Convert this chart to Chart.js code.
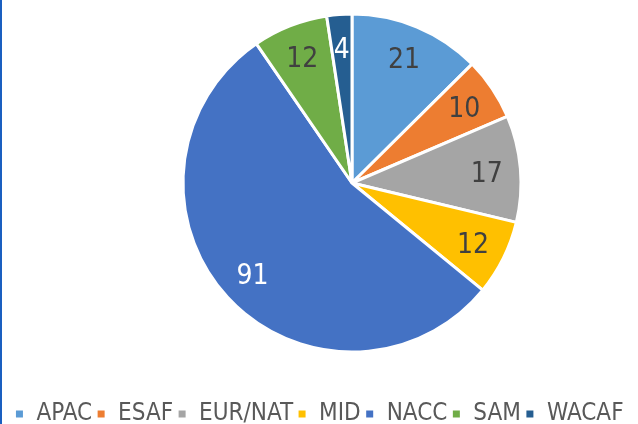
<!DOCTYPE html>
<html>
<head>
<meta charset="utf-8">
<script src="https://cdn.jsdelivr.net/npm/chart.js@4"></script>
<style>
  html, body { margin: 0; padding: 0; background: #fff; }
  #wrap { position: relative; width: 638px; height: 424px; }
  #edge { position: absolute; left: 0; top: 0; width: 2px; height: 424px; background: #1a5fc0; }
</style>
</head>
<body>
<div id="wrap">
  <canvas id="regionChart" width="638" height="424"></canvas>
  <div id="edge"></div>
</div>
<script>
const regions = ['APAC', 'ESAF', 'EUR/NAT', 'MID', 'NACC', 'SAM', 'WACAF'];
const counts = [21, 10, 17, 12, 91, 12, 4];
const sliceColors = ['#5B9BD5', '#ED7D31', '#A5A5A5', '#FFC000', '#4472C4', '#70AD47', '#255E91'];
const labelColors = ['#404040', '#404040', '#404040', '#404040', '#ffffff', '#404040', '#ffffff'];

const FONT = "'Liberation Sans Narrow', 'DejaVu Sans Condensed', sans-serif";

// values inside slices
const sliceLabels = {
  id: 'sliceLabels',
  afterDatasetsDraw(chart) {
    const ctx = chart.ctx;
    const meta = chart.getDatasetMeta(0);
    ctx.save();
    ctx.font = '28px ' + FONT;
    ctx.textAlign = 'center';
    ctx.textBaseline = 'alphabetic';
    meta.data.forEach((arc, i) => {
      const p = arc.getProps(['x', 'y', 'startAngle', 'endAngle', 'outerRadius'], true);
      const mid = (p.startAngle + p.endAngle) / 2;
      const r = p.outerRadius * 0.8;
      ctx.fillStyle = labelColors[i];
      // digits are ~20px tall, so drop the baseline by half of that
      ctx.fillText(String(counts[i]), p.x + Math.cos(mid) * r, p.y + Math.sin(mid) * r + 10);
    });
    ctx.restore();
  }
};

new Chart(document.getElementById('regionChart'), {
  type: 'pie',
  data: {
    labels: regions,
    datasets: [{
      data: counts,
      backgroundColor: sliceColors,
      borderColor: '#ffffff',
      borderWidth: 3
    }]
  },
  options: {
    responsive: false,
    animation: false,
    layout: { padding: { top: 12.5, bottom: -12, left: 0, right: 0 } },
    plugins: {
      tooltip: { enabled: false },
      // empty box on the left only to push the pie to the right
      title: {
        display: true,
        position: 'left',
        fullSize: false,
        text: ' ',
        font: { size: 10 },
        padding: 27
      },
      legend: {
        position: 'bottom',
        title: { display: true, text: ' ', font: { size: 10 }, padding: { top: 32.5, bottom: 0 } },
        labels: {
          color: '#595959',
          font: { family: FONT, size: 24 },
          boxWidth: 10,
          boxHeight: 10,
          padding: 4
        }
      }
    }
  },
  plugins: [sliceLabels]
});
</script>
</body>
</html>
